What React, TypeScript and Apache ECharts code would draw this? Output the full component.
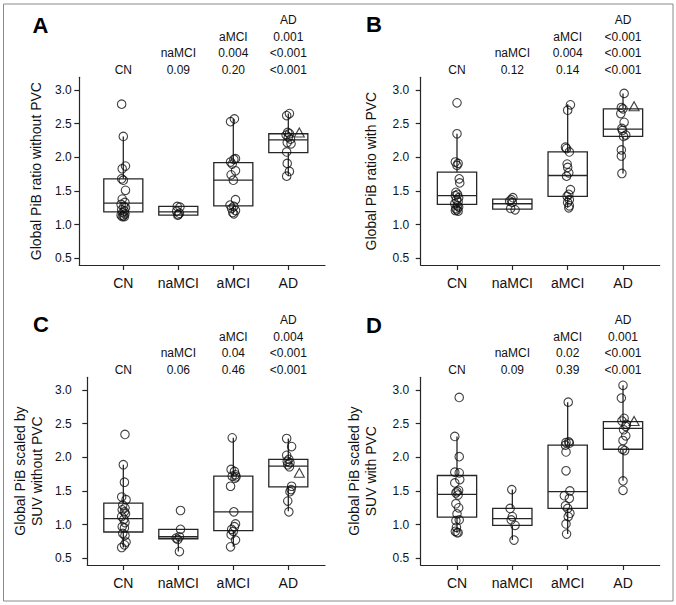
import { useEffect, useRef } from "react";
import * as echarts from "echarts";

// ---------- data ----------
const categories = ["CN", "naMCI", "aMCI", "AD"];
const yTicks = [0.5, 1.0, 1.5, 2.0, 2.5, 3.0];
const panelLetters = ["A", "B", "C", "D"];
const yTitles = [
  "Global PiB ratio without PVC",
  "Global PiB ratio with PVC",
  "Global PiB scaled by\nSUV without PVC",
  "Global PiB scaled by\nSUV with PVC",
];

// p-values shown above each group (top to bottom)
const pValuesA = [[], ["0.09"], ["0.004", "0.20"], ["0.001", "<0.001", "<0.001"]];
const pValuesB = [[], ["0.12"], ["0.004", "0.14"], ["<0.001", "<0.001", "<0.001"]];
const pValuesC = [[], ["0.06"], ["0.04", "0.46"], ["0.004", "<0.001", "<0.001"]];
const pValuesD = [[], ["0.09"], ["0.02", "0.39"], ["0.001", "<0.001", "<0.001"]];

// box statistics [min, Q1, median, Q3, max] per group
const boxesA = [[1.12, 1.19, 1.32, 1.68, 2.31], [1.14, 1.14, 1.19, 1.27, 1.27], [1.16, 1.28, 1.66, 1.92, 2.57], [1.72, 2.07, 2.26, 2.35, 2.65]];
const boxesB = [[1.2, 1.3, 1.43, 1.78, 2.35], [1.22, 1.23, 1.31, 1.38, 1.4], [1.25, 1.42, 1.73, 2.08, 2.79], [1.76, 2.31, 2.42, 2.72, 2.95]];
const boxesC = [[0.66, 0.89, 1.09, 1.32, 1.89], [0.6, 0.79, 0.82, 0.93, 0.93], [0.67, 0.91, 1.19, 1.72, 2.29], [1.2, 1.56, 1.87, 1.97, 2.28]];
const boxesD = [[0.88, 1.11, 1.45, 1.73, 2.31], [0.77, 0.99, 1.09, 1.24, 1.52], [0.86, 1.24, 1.49, 2.18, 2.82], [1.65, 2.12, 2.43, 2.53, 3.07]];

// individual subjects (values) and their horizontal jitter (category units)
const aCN = [2.79, 2.31, 1.87, 1.83, 1.68, 1.66, 1.51, 1.38, 1.33, 1.3, 1.27, 1.25, 1.22, 1.2, 1.18, 1.16, 1.14, 1.13, 1.12, 1.12];
const aCNJ = [-0.03, 0, 0.04, -0.02, -0.03, 0, 0.04, -0.02, 0.03, -0.04, 0.01, 0.04, -0.03, 0.02, -0.01, 0.03, -0.04, 0, 0.02, -0.02];
const aNa = [1.27, 1.26, 1.2, 1.17, 1.15, 1.14];
const aNaJ = [-0.02, 0.03, -0.03, 0.02, 0, -0.01];
const aAm = [2.57, 2.53, 1.98, 1.97, 1.93, 1.9, 1.8, 1.74, 1.66, 1.37, 1.29, 1.27, 1.24, 1.21, 1.18, 1.16];
const aAmJ = [0.02, -0.05, 0.04, 0.01, -0.05, -0.02, 0.04, -0.04, 0, 0.04, -0.06, 0.01, -0.03, 0.04, -0.01, 0.01];
const aAd = [2.65, 2.62, 2.37, 2.35, 2.33, 2.3, 2.27, 2.22, 2.2, 2.08, 1.91, 1.79, 1.72];
const aAdJ = [0.02, -0.03, -0.01, 0.02, -0.04, 0, 0.04, -0.02, 0.05, -0.03, -0.02, 0.02, -0.03];

const bCN = [2.81, 2.35, 1.93, 1.91, 1.88, 1.68, 1.62, 1.48, 1.45, 1.43, 1.4, 1.37, 1.34, 1.31, 1.28, 1.26, 1.24, 1.22, 1.21, 1.2];
const bCNJ = [0, 0, -0.03, 0.02, 0, 0.04, 0.05, -0.02, 0.01, -0.03, 0.03, -0.01, 0.02, -0.04, 0.01, 0.03, -0.02, 0, -0.03, 0.02];
const bNa = [1.4, 1.37, 1.35, 1.33, 1.24, 1.22];
const bNaJ = [0.01, -0.02, -0.05, 0, -0.03, 0.05];
const bAm = [2.78, 2.7, 2.15, 2.13, 2.08, 1.9, 1.85, 1.77, 1.72, 1.52, 1.45, 1.42, 1.37, 1.33, 1.28, 1.25];
const bAmJ = [0.05, 0, -0.04, -0.02, 0.03, -0.01, 0, 0.02, -0.02, 0.05, 0.02, -0.01, 0.03, 0, 0.03, 0.02];
const bAd = [2.95, 2.74, 2.72, 2.65, 2.52, 2.43, 2.4, 2.33, 2.31, 2.11, 2.02, 1.76];
const bAdJ = [0.02, -0.03, 0, -0.04, 0.02, -0.02, -0.01, 0.05, 0.01, -0.03, -0.03, -0.02];

const cCN = [2.34, 1.89, 1.63, 1.41, 1.37, 1.29, 1.25, 1.22, 1.19, 1.16, 1.12, 1.08, 1.03, 0.97, 0.95, 0.87, 0.84, 0.74, 0.7, 0.66];
const cCNJ = [0.03, 0, 0.02, -0.03, 0.05, -0.01, 0.03, -0.02, 0.02, 0.04, -0.03, 0.01, 0.03, -0.02, 0.02, -0.01, 0.03, 0.05, 0.02, -0.03];
const cNa = [1.21, 0.93, 0.82, 0.8, 0.78, 0.6];
const cNaJ = [0.04, 0.04, 0.02, -0.04, -0.01, 0.02];
const cAm = [2.29, 1.82, 1.79, 1.74, 1.72, 1.71, 1.69, 1.57, 1.19, 1.01, 0.97, 0.93, 0.9, 0.85, 0.77, 0.67];
const cAmJ = [-0.02, -0.04, 0.02, 0.04, -0.02, 0.05, 0.03, -0.05, 0.01, 0.04, 0.02, -0.03, 0, -0.04, 0.04, -0.05];
const cAd = [2.28, 2.16, 2.03, 1.97, 1.94, 1.92, 1.89, 1.86, 1.57, 1.52, 1.49, 1.35, 1.19];
const cAdJ = [-0.03, 0.06, -0.03, 0.01, -0.02, 0.03, -0.01, 0.02, 0.06, 0.05, 0.03, -0.01, 0.01];

const dCN = [2.89, 2.31, 2.01, 1.78, 1.77, 1.67, 1.62, 1.51, 1.49, 1.47, 1.44, 1.31, 1.25, 1.16, 1.07, 1.06, 0.96, 0.9, 0.88, 0.88];
const dCNJ = [0.04, -0.04, 0.04, -0.04, 0.04, 0.05, -0.04, 0.03, 0, -0.02, 0.02, -0.02, 0.03, 0, 0.04, -0.02, -0.01, -0.03, 0.02, 0];
const dNa = [1.52, 1.24, 1.12, 1.07, 0.99, 0.77];
const dNaJ = [-0.01, -0.04, 0, -0.02, 0.05, 0.03];
const dAm = [2.82, 2.23, 2.22, 2.21, 2.18, 2.08, 1.8, 1.5, 1.43, 1.39, 1.28, 1.24, 1.17, 1.12, 1.01, 0.86];
const dAmJ = [0.01, 0.02, -0.03, 0.03, -0.04, -0.03, -0.03, 0.04, -0.06, 0.03, -0.04, 0, 0.04, 0.01, -0.03, -0.02];
const dAd = [3.07, 2.88, 2.58, 2.54, 2.49, 2.46, 2.41, 2.32, 2.25, 2.12, 2.1, 1.65, 1.51];
const dAdJ = [0, -0.03, 0.02, -0.02, 0.06, 0.05, 0.01, 0.05, 0, -0.01, 0.03, 0, 0];

// special AD subject (triangle), value per panel
const triangleValues = [2.37, 2.76, 1.77, 2.54];
const triangleOffset = 0.2;

// ---------- layout (styles) ----------
const FONT = '"Liberation Sans", Arial, Helvetica, sans-serif';
const INK = "#111111";
const LINE = "#262626";
const Y_MIN = 0.4;
const Y_MAX = 3.189;
const BOX_HALF = 0.355;

const layouts = [
  { grid: { left: 79.3, top: 77.3, width: 245.7, height: 187.7 }, xMin: 0.2, xMax: 4.667, yMargin: 7.5, nameGap: 35, letter: [32.5, 25.8] },
  { grid: { left: 420.7, top: 77.3, width: 239, height: 187.7 }, xMin: 0.344, xMax: 4.663, yMargin: 11.5, nameGap: 41, letter: [366, 24.7] },
  { grid: { left: 87.3, top: 377.3, width: 237.7, height: 187.7 }, xMin: 0.345, xMax: 4.667, yMargin: 15.5, nameGap: 42, letter: [33, 324] },
  { grid: { left: 420.7, top: 377.3, width: 239, height: 187.7 }, xMin: 0.344, xMax: 4.663, yMargin: 11.5, nameGap: 41, letter: [366, 325] },
];

const pValues = [pValuesA, pValuesB, pValuesC, pValuesD];
const boxes = [boxesA, boxesB, boxesC, boxesD];
const points = [
  [[aCN, aCNJ], [aNa, aNaJ], [aAm, aAmJ], [aAd, aAdJ]],
  [[bCN, bCNJ], [bNa, bNaJ], [bAm, bAmJ], [bAd, bAdJ]],
  [[cCN, cCNJ], [cNa, cNaJ], [cAm, cAmJ], [cAd, cAdJ]],
  [[dCN, dCNJ], [dNa, dNaJ], [dAm, dAmJ], [dAd, dAdJ]],
];

function buildOption() {
  const grid: any[] = [];
  const xAxis: any[] = [];
  const yAxis: any[] = [];
  const series: any[] = [];
  const graphic: any[] = [];

  layouts.forEach((L, p) => {
    grid.push({ ...L.grid, containLabel: false, outerBoundsMode: "none" });
    xAxis.push({
      type: "value",
      gridIndex: p,
      min: L.xMin,
      max: L.xMax,
      position: "bottom",
      splitLine: { show: false },
      axisLine: { show: true, lineStyle: { color: LINE, width: 1.2 } },
      axisTick: { show: true, length: 5, lineStyle: { color: LINE, width: 1.2 }, customValues: [1, 2, 3, 4] },
      axisLabel: {
        customValues: [1, 2, 3, 4],
        formatter: (v: number) => categories[Math.round(v) - 1] ?? "",
        fontSize: 14,
        fontFamily: FONT,
        color: INK,
        margin: 11,
      },
    });
    yAxis.push({
      type: "value",
      gridIndex: p,
      min: Y_MIN,
      max: Y_MAX,
      splitLine: { show: false },
      axisLine: { show: true, lineStyle: { color: LINE, width: 1.2 } },
      axisTick: { show: true, length: 5, lineStyle: { color: LINE, width: 1.2 }, customValues: yTicks },
      axisLabel: {
        customValues: yTicks,
        formatter: (v: number) => v.toFixed(1),
        fontSize: 12,
        fontFamily: FONT,
        color: INK,
        margin: L.yMargin,
      },
      name: yTitles[p],
      nameLocation: "middle",
      nameRotate: 90,
      nameGap: L.nameGap,
      nameMoveOverlap: false,
      nameTextStyle: { fontSize: 14, fontFamily: FONT, color: INK, lineHeight: 17 },
    });
    series.push({
      type: "custom",
      xAxisIndex: p,
      yAxisIndex: p,
      encode: { x: 0, y: [1, 2, 3, 4, 5] },
      data: boxes[p].map((b, i) => [i + 1, ...b]),
      silent: true,
      renderItem: (_params: any, api: any) => {
        const x = api.value(0);
        const lo = api.value(1), q1 = api.value(2), med = api.value(3), q3 = api.value(4), hi = api.value(5);
        const tl = api.coord([x - BOX_HALF, q3]);
        const br = api.coord([x + BOX_HALF, q1]);
        const ml = api.coord([x - BOX_HALF, med]);
        const mr = api.coord([x + BOX_HALF, med]);
        const pHi = api.coord([x, hi]);
        const pQ3 = api.coord([x, q3]);
        const pQ1 = api.coord([x, q1]);
        const pLo = api.coord([x, lo]);
        const style = { stroke: LINE, lineWidth: 1.3, fill: "none" };
        return {
          type: "group",
          children: [
            { type: "line", shape: { x1: pHi[0], y1: pHi[1], x2: pQ3[0], y2: pQ3[1] }, style },
            { type: "line", shape: { x1: pQ1[0], y1: pQ1[1], x2: pLo[0], y2: pLo[1] }, style },
            { type: "rect", shape: { x: tl[0], y: tl[1], width: br[0] - tl[0], height: br[1] - tl[1] }, style },
            { type: "line", shape: { x1: ml[0], y1: ml[1], x2: mr[0], y2: mr[1] }, style },
          ],
        };
      },
    });
    const pts: number[][] = [];
    points[p].forEach(([vals, jit], gi) => {
      vals.forEach((v, k) => pts.push([gi + 1 + (jit[k] ?? 0), v]));
    });
    series.push({
      type: "scatter",
      xAxisIndex: p,
      yAxisIndex: p,
      data: pts,
      symbol: "circle",
      symbolSize: 8.5,
      silent: true,
      itemStyle: { color: "rgba(0,0,0,0)", borderColor: "#111", borderWidth: 1.1 },
    });
    series.push({
      type: "scatter",
      xAxisIndex: p,
      yAxisIndex: p,
      data: [[4 + triangleOffset, triangleValues[p]]],
      symbol: "triangle",
      symbolSize: [10, 9],
      silent: true,
      itemStyle: { color: "rgba(0,0,0,0)", borderColor: "#111", borderWidth: 1.1 },
    });
    graphic.push({
      type: "text",
      x: L.letter[0],
      y: L.letter[1],
      style: { text: panelLetters[p], fontSize: 22, fontWeight: "bold", fontFamily: FONT, fill: "#000", verticalAlign: "middle" },
    });
  });

  layouts.forEach((L, p) => {
    xAxis.push({
      type: "value",
      gridIndex: p,
      min: L.xMin,
      max: L.xMax,
      position: "top",
      splitLine: { show: false },
      axisLine: { show: false },
      axisTick: { show: false },
      axisLabel: {
        customValues: [1, 2, 3, 4],
        formatter: (v: number) => {
          const i = Math.round(v) - 1;
          return [categories[i], ...pValues[p][i]].join("\n");
        },
        fontSize: 12,
        fontFamily: FONT,
        color: INK,
        lineHeight: 16.7,
        margin: -1,
      },
    });
  });

  graphic.push({
    type: "rect",
    shape: { x: 3.5, y: 4, width: 669.5, height: 597 },
    style: { fill: "none", stroke: "#8a8a8a", lineWidth: 1 },
    z: -1,
  });

  return {
    animation: false,
    backgroundColor: "#ffffff",
    textStyle: { fontFamily: FONT },
    grid,
    xAxis,
    yAxis,
    series,
    graphic,
  };
}

export default function App() {
  const ref = useRef<HTMLDivElement>(null);
  useEffect(() => {
    if (!ref.current) return;
    const chart = echarts.init(ref.current, undefined, { renderer: "svg" });
    chart.setOption(buildOption() as any);
    return () => chart.dispose();
  }, []);
  return (
    <div
      ref={ref}
      style={{ position: "fixed", left: 0, top: 0, width: 676, height: 605, background: "#fff" }}
    />
  );
}
